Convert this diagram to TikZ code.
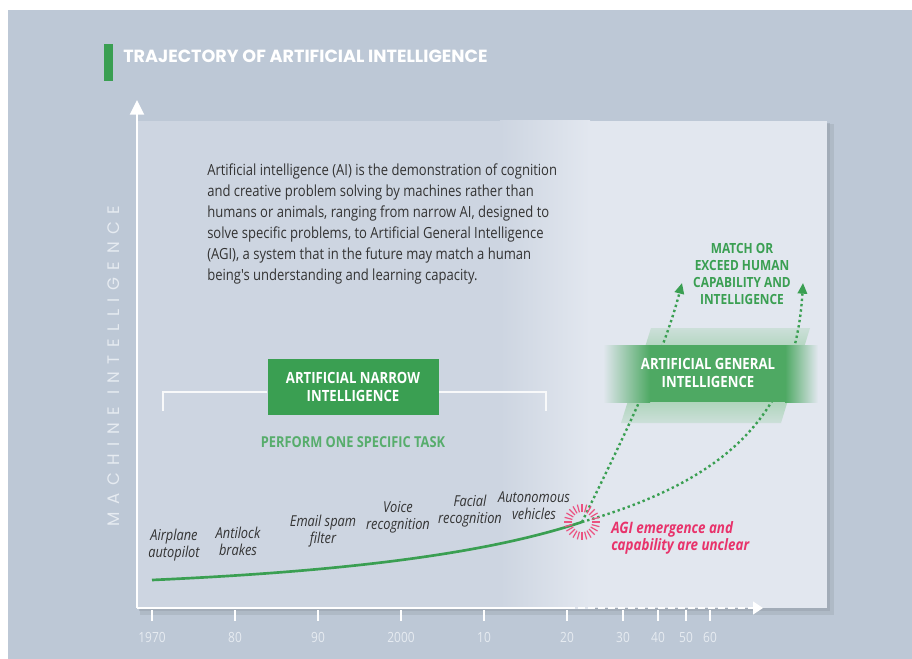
\documentclass[tikz,border=0pt]{standalone}
\usepackage{fontspec}
\setmainfont{Open Sans}
\newfontfamily\condfont[FakeStretch=0.85]{Open Sans}
\newfontfamily\headfont{Poppins}
\newfontfamily\spacedfont[LetterSpace=45]{Poppins}
\usepackage{tikz}
\usetikzlibrary{arrows.meta,calc}
\definecolor{pagebg}{HTML}{BDC8D6}
\definecolor{panelL}{HTML}{CDD5E1}
\definecolor{panelR}{HTML}{E2E7EF}
\definecolor{aigreen}{HTML}{3A9F52}
\definecolor{softgreen}{HTML}{8BC898}
\definecolor{agired}{HTML}{E8336B}
\definecolor{inktext}{HTML}{333333}
\definecolor{axislabel}{HTML}{E6EBF1}
\tikzset{axis/.style={white, line width=1.6pt}}
\tikzset{tick/.style={white, line width=1pt}}
\tikzset{ticklabel/.style={text=axislabel, font=\condfont\fontsize{10.5}{10.5}\selectfont}}
\tikzset{trend/.style={aigreen, line width=2pt}}
\tikzset{agipath/.style={aigreen, line width=1.8pt, dash pattern=on 1.8pt off 2.2pt, -{Triangle[length=8pt,width=7pt]}}}
\tikzset{usecase/.style={align=center, text=inktext, font=\condfont\itshape\fontsize{11.3}{12.8}\selectfont}}
\tikzset{greenbox/.style={fill=aigreen, text=white, align=center, font=\condfont\bfseries\fontsize{11.6}{13}\selectfont}}
\tikzset{greentext/.style={text=aigreen, align=center, font=\condfont\bfseries\fontsize{10.5}{12.8}\selectfont}}
\begin{document}
\begin{tikzpicture}[x=0.75pt,y=-0.75pt]
  \useasboundingbox (0,0) rectangle (912,659);
  \fill[white] (0,0) rectangle (912,659);
  \fill[pagebg] (8,10) rectangle (912,659);

  % title
  \fill[aigreen] (104,44) rectangle (113,81);
  \node (title) at (123,56)[anchor=west, inner sep=0, text=white, font=\headfont\bfseries\fontsize{13.2}{13.2}\selectfont]{TRAJECTORY OF ARTIFICIAL INTELLIGENCE};

  % panel with shadow
  \fill[pagebg!80!black, opacity=0.35] (140,124) rectangle (834,615);
  \fill[pagebg!80!black, opacity=0.5] (139,123) rectangle (830,611);
  \fill[panelL] (137,121) rectangle (827,608);
  \shade[left color=panelL, right color=panelR] (500,121) rectangle (590,608);
  \fill[panelR] (590,121) rectangle (827,608);

  % axes
  \coordinate (o) at (137,608);
  \coordinate (ytip) at (137,100);
  \coordinate (xend) at (568,608);
  \coordinate (xtip) at (763,608);
  \draw[axis, -{Triangle[length=11pt,width=10.5pt]}] (o) -- (ytip);
  \draw[axis] (o) -- (xend);
  \draw[axis, dash pattern=on 5pt off 2.5pt, -{Triangle[length=7.5pt,width=9.5pt]}] (xend) -- (xtip);
  \foreach \x/\t in {152/1970, 235/80, 318/90, 401/2000, 484/10, 567/20, 623/30, 658/40, 686/50, 710/60}{
    \draw[tick] (\x,610) -- (\x,621);
    \node (yr\t) at (\x,637)[ticklabel]{\t};
  }
  \node (ylabel) at (114,366)[rotate=90, text=axislabel, font=\spacedfont\fontsize{12.5}{12.5}\selectfont]{MACHINE INTELLIGENCE};

  % intro text
  \node (intro) at (207,164)[anchor=north west, inner sep=0, align=left, text=inktext, font=\condfont\fontsize{11.5}{15.75}\selectfont]{Artificial intelligence (AI) is the demonstration of cognition\\and creative problem solving by machines rather than\\humans or animals, ranging from narrow AI, designed to\\solve specific problems, to Artificial General Intelligence\\(AGI), a system that in the future may match a human\\being's understanding and learning capacity.};

  % narrow AI
  \coordinate (brl) at (163,411);
  \coordinate (brr) at (546,411);
  \node (ani) at (353,387)[greenbox, minimum width=171pt*0.75, minimum height=56pt*0.75]{ARTIFICIAL NARROW\\INTELLIGENCE};
  \draw[white!85!panelL, line width=1.2pt] (brl) |- ($(ani.west)+(0,5)$);
  \draw[white!85!panelL, line width=1.2pt] (brr) |- ($(ani.east)+(0,5)$);
  \node (task) at (353,442)[greentext, text=aigreen!85!white, font=\condfont\bfseries\fontsize{11.3}{12.8}\selectfont]{PERFORM ONE SPECIFIC TASK};

  % general AI band
  \shade[top color=softgreen!25!panelR, bottom color=softgreen!25!panelR, middle color=softgreen] (651,328) -- (810,328) -- (781,423) -- (621,423) -- cycle;

  % trend
  \coordinate (start) at (152,580);
  \coordinate (em) at (582,522);
  \coordinate (tipa) at (682,283);
  \coordinate (tipb) at (803,283);
  \draw[trend] (start) .. controls (330,572) and (480,556) .. (em);
  \draw[agipath] (em) .. controls (622,440) and (662,360) .. (tipa);
  \draw[agipath] (em) .. controls (720,482) and (795,420) .. (tipb);

  \shade[left color=panelR, right color=aigreen!90!white] (603,345) rectangle (650,402);
  \fill[aigreen!90!white] (650,345) rectangle (785,402);
  \shade[left color=aigreen!90!white, right color=panelR] (785,345) rectangle (818,402);
  \node (agi) at (708,373)[text=white, align=center, font=\condfont\bfseries\fontsize{11.6}{13}\selectfont]{ARTIFICIAL GENERAL\\INTELLIGENCE};
  \node (goal) at (742,274)[greentext]{MATCH OR\\EXCEED HUMAN\\CAPABILITY AND\\INTELLIGENCE};

  % uncertainty ring
  \foreach \a in {0,15,...,345}
    \draw[agired!85!white, line width=0.9pt] ($(em)+(\a:10)$) -- ($(em)+(\a:18)$);
  \node (unclear) at (611,538)[anchor=west, inner sep=0, align=left, text=agired, font=\condfont\bfseries\itshape\fontsize{11.8}{12.8}\selectfont]{AGI emergence and\\capability are unclear};

  % use cases
  \node (autopilot) at (174,545)[usecase]{Airplane\\autopilot};
  \node (brakes) at (238,541)[usecase]{Antilock\\brakes};
  \node (spam) at (323,531)[usecase]{Email spam\\filter};
  \node (voice) at (398,517)[usecase]{Voice\\recognition};
  \node (facial) at (470,511)[usecase]{Facial\\recognition};
  \node (cars) at (534,506)[usecase]{Autonomous\\vehicles};
\end{tikzpicture}
\end{document}
